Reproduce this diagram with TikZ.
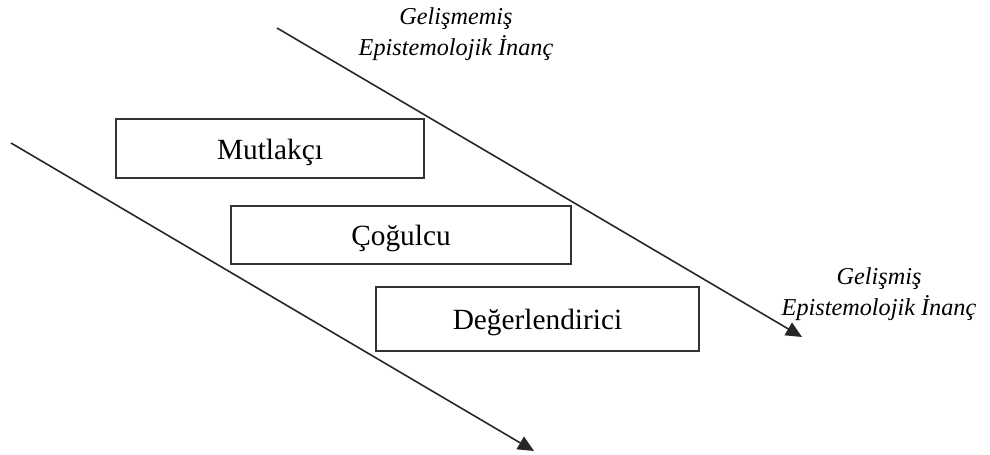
\documentclass[tikz,border=0pt]{standalone}
\usepackage{fontspec}
\setmainfont{Liberation Serif}
\usetikzlibrary{arrows.meta}
\tikzstyle{stage}=[rectangle, draw=black!80, line width=0.8pt, inner sep=0pt, text height=14.5pt, text depth=2pt, font=\fontsize{16.7}{20}\selectfont]
\tikzstyle{belief}=[align=center, font=\fontsize{13.8}{17.5}\selectfont\itshape]
\tikzstyle{axis}=[line width=0.9pt, black!85, -{Triangle[length=3.2mm,width=2.9mm]}]

\begin{document}
\begin{tikzpicture}[x=0.02cm, y=-0.02cm]
  \useasboundingbox (0,0) rectangle (990,455);

  %% Stages
  \draw (270,148.5) node[stage, minimum width=6.16cm, minimum height=1.18cm] (M) {Mutlakçı};
  \draw (401,235) node[stage, minimum width=6.8cm, minimum height=1.16cm] (C) {Çoğulcu};
  \draw (537.5,319) node[stage, minimum width=6.46cm, minimum height=1.28cm] (D) {Değerlendirici};

  %% Arrows
  \coordinate (U1) at (277,28);
  \coordinate (U2) at (802,337);
  \coordinate (L1) at (11,143);
  \coordinate (L2) at (534,451);

  \draw[axis] (U1) -- (U2);
  \draw[axis] (L1) -- (L2);

  %% Labels
  \draw (456,34) node[belief] (G1) {Gelişmemiş\\Epistemolojik İnanç};
  \draw (879,294) node[belief] (G2) {Gelişmiş\\Epistemolojik İnanç};
\end{tikzpicture}
\end{document}
